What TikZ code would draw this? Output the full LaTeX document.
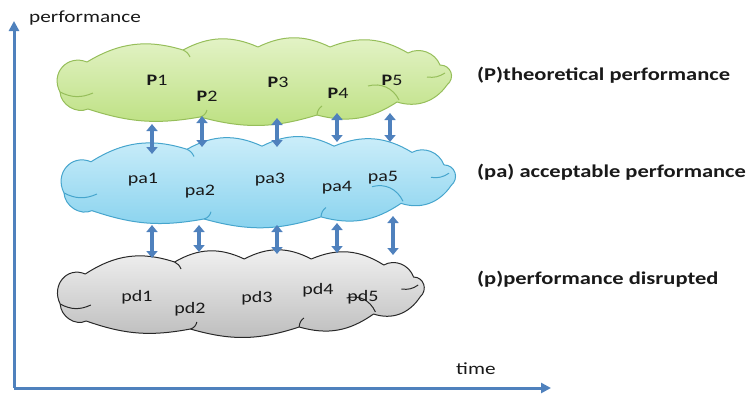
\documentclass[tikz,border=0pt]{standalone}
\usepackage{fontspec}
\usepackage{graphicx}
\setmainfont{Carlito}
\usetikzlibrary{arrows.meta}
\definecolor{axisblue}{RGB}{79,129,189}
\definecolor{gtop}{RGB}{228,243,200}
\definecolor{gbot}{RGB}{188,224,128}
\definecolor{gline}{RGB}{150,190,90}
\definecolor{btop}{RGB}{205,238,250}
\definecolor{bbot}{RGB}{135,210,238}
\definecolor{bline}{RGB}{70,165,205}
\definecolor{dtop}{RGB}{242,242,242}
\definecolor{dbot}{RGB}{188,188,188}
\definecolor{dline}{RGB}{40,40,40}
\definecolor{txt}{RGB}{25,25,25}
\newcommand\wide[1]{\scalebox{1.25}[1]{#1}}
\newcommand\cloudoutline{%
  (87,62) to[bend left=24] (183,50) to[bend left=26] (258,47)
  to[bend left=26] (330,47) to[bend left=26] (408,53)
  to[bend left=48] (440,65) to[bend left=70,looseness=1.35] (447,85)
  to[bend left=36] (397,102) to[bend left=24] (317,115)
  to[bend left=16] (200,117) to[bend left=14] (88,109)
  to[bend left=55] (60,92) to[bend left=70,looseness=1.35] (87,62) -- cycle}
\newcommand\cloudinner{%
  (60,92) to[bend right=25] (93,93)
  (183,50) to[bend left=20] (190,57)
  (200,117) to[bend right=30] (207,110)
  (317,115) to[bend left=25] (322,106)
  (368,86) to[bend left=40] (399,100)
  (427,77) to[bend right=20] (445,73)}
\begin{document}
\begin{tikzpicture}[x=1pt,y=-1pt,
  axis/.style={draw=axisblue, line width=3pt, -{Triangle[length=10pt,width=10pt]}},
  dbl/.style={draw=axisblue, line width=3.6pt, {Triangle[length=7pt,width=11pt]}-{Triangle[length=7pt,width=11pt]}},
  lbl/.style={font=\fontsize{16}{18}\selectfont, text=txt, inner sep=0pt},
  side/.style={font=\fontsize{18}{20}\selectfont\bfseries, text=txt, anchor=west, inner sep=0pt},
  axlbl/.style={font=\fontsize{17}{19}\selectfont, text=txt, anchor=west, inner sep=0pt}]
\useasboundingbox (0,0) rectangle (750,394);
% axes
\coordinate (o) at (14,388);
\coordinate (ytop) at (14,21);
\coordinate (xend) at (551,388);
\draw[axis] (o) -- (ytop);
\draw[axis] (o) -- (xend);
\node[axlbl] (perf) at (29,18) {\wide{performance}};
\node[axlbl] (time) at (456,369) {\wide{time}};
% green cloud
\shade[top color=gtop, bottom color=gbot] \cloudoutline;
\draw[gline, line width=1pt, line join=round] \cloudoutline;
\draw[gline, line width=1pt] \cloudinner;
% blue cloud
\begin{scope}[shift={(52,142)}, yscale=1.04, shift={(-48,-43)}]
\shade[top color=btop, bottom color=bbot] \cloudoutline;
\draw[bline, line width=1pt, line join=round] \cloudoutline;
\draw[bline, line width=1pt] \cloudinner;
\end{scope}
% grey cloud
\begin{scope}[shift={(49,255)}, xscale=0.93, shift={(-48,-43)}]
\shade[top color=dtop, bottom color=dbot] \cloudoutline;
\draw[dline, line width=1pt, line join=round] \cloudoutline;
\draw[dline, line width=1pt] \cloudinner;
\end{scope}
% labels
\node[lbl] (P1) at (157,80) {\wide{\textbf{P}1}};
\node[lbl] (P2) at (207,96) {\wide{\textbf{P}2}};
\node[lbl] (P3) at (278,82) {\wide{\textbf{P}3}};
\node[lbl] (P4) at (338,93) {\wide{\textbf{P}4}};
\node[lbl] (P5) at (392,80) {\wide{\textbf{P}5}};
\node[lbl] (pa1) at (143,180) {\wide{pa1}};
\node[lbl] (pa2) at (200,192) {\wide{pa2}};
\node[lbl] (pa3) at (270,180) {\wide{pa3}};
\node[lbl] (pa4) at (337,188) {\wide{pa4}};
\node[lbl] (pa5) at (383,178) {\wide{pa5}};
\node[lbl] (pd1) at (137,297) {\wide{pd1}};
\node[lbl] (pd2) at (190,309) {\wide{pd2}};
\node[lbl] (pd3) at (257,298) {\wide{pd3}};
\node[lbl] (pd4) at (318,290) {\wide{pd4}};
\node[lbl] (pd5) at (363,297) {\wide{pd5}};
% side labels
\node[side] (sP) at (477,75) {\wide{(P)theoretical performance}};
\node[side] (spa) at (477,172) {\wide{(pa) acceptable performance}};
\node[side] (sp) at (477,279) {\wide{(p)performance disrupted}};
% arrows top
\coordinate (a1t) at (152,124); \coordinate (a1b) at (152,154);
\coordinate (a2t) at (202,116); \coordinate (a2b) at (202,147);
\coordinate (a3t) at (277,118); \coordinate (a3b) at (277,147);
\coordinate (a4t) at (337,113); \coordinate (a4b) at (337,142);
\coordinate (a5t) at (390,113); \coordinate (a5b) at (390,142);
\foreach \i in {1,...,5} {\draw[dbl] (a\i t) -- (a\i b);}
% arrows bottom
\coordinate (b1t) at (152,225); \coordinate (b1b) at (152,258);
\coordinate (b2t) at (199,225); \coordinate (b2b) at (199,252);
\coordinate (b3t) at (277,225); \coordinate (b3b) at (277,254);
\coordinate (b4t) at (337,223); \coordinate (b4b) at (337,253);
\coordinate (b5t) at (393,216); \coordinate (b5b) at (393,255);
\foreach \i in {1,...,5} {\draw[dbl] (b\i t) -- (b\i b);}
\end{tikzpicture}
\end{document}
